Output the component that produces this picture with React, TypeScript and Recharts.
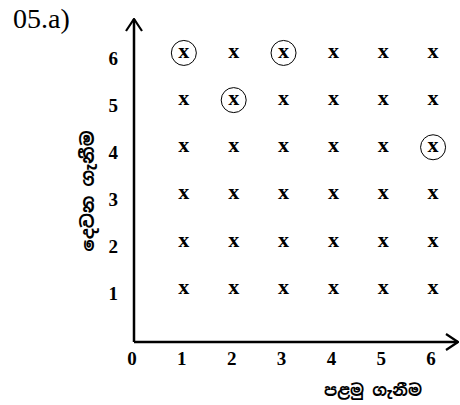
import React from 'react';
import { ScatterChart, Scatter, XAxis, YAxis } from 'recharts';

// Outcomes of the first and second draw
const firstTakes = [1, 2, 3, 4, 5, 6];
const secondTakes = [1, 2, 3, 4, 5, 6];
// Outcomes marked with a circle: [first, second]
const circledOutcomes = [
  [1, 6],
  [3, 6],
  [2, 5],
  [6, 4],
];
const xTicks = [0, 1, 2, 3, 4, 5, 6];
const yTicks = [1, 2, 3, 4, 5, 6];

const title = '05.a)';
const xLabel = 'පළමු ගැනීම';
const yLabel = 'දෙවන ගැනීම';

const sampleSpace = secondTakes.flatMap((s) =>
  firstTakes.map((f) => ({
    first: f,
    second: s,
    circled: circledOutcomes.some(([a, b]) => a === f && b === s),
  }))
);

const SERIF = '"Liberation Serif", "Times New Roman", serif';
const SINHALA = '"Noto Sans Sinhala", "Iskoola Pota", "Noto Sans", sans-serif';

const OutcomeMark = (props: any) => {
  const { cx, cy, payload } = props;
  return (
    <g>
      <text
        x={cx}
        y={cy + 5}
        textAnchor="middle"
        fontFamily={SERIF}
        fontWeight="bold"
        fontSize={22}
        fill="#000"
      >
        x
      </text>
      {payload.circled && (
        <circle cx={cx} cy={cy} r={12.5} fill="none" stroke="#000" strokeWidth={1} />
      )}
    </g>
  );
};

const tickStyle = {
  fontFamily: SERIF,
  fontWeight: 'bold' as const,
  fontSize: 19,
  fill: '#000',
};

const YTick = (props: any) => {
  const { x, y, payload } = props;
  return (
    <text x={x} y={y + 5} dy="0.355em" textAnchor="end" {...tickStyle}>
      {payload.value}
    </text>
  );
};

const XTick = (props: any) => {
  const { x, y, payload } = props;
  return (
    <text x={x - 2} y={y} dy="0.71em" textAnchor="middle" {...tickStyle}>
      {payload.value}
    </text>
  );
};

export default function App() {
  return (
    <div style={{ position: 'absolute', left: 0, top: 0, width: 460, height: 405, background: '#fff' }}>
      <svg width={0} height={0} style={{ position: 'absolute' }}>
        <defs>
          <marker
            id="axisArrow"
            viewBox="0 0 14 18"
            refX={13}
            refY={9}
            markerWidth={14}
            markerHeight={18}
            markerUnits="userSpaceOnUse"
            orient="auto-start-reverse"
          >
            <path d="M1,1 L13,9 L1,17" fill="none" stroke="#000" strokeWidth={2.2} />
          </marker>
        </defs>
      </svg>
      <ScatterChart
        width={460}
        height={405}
        margin={{ top: 19, right: 2, bottom: 23, left: 74 }}
      >
        <XAxis
          type="number"
          dataKey="first"
          domain={[0, 6.5]}
          ticks={xTicks}
          height={40}
          tickLine={false}
          tickSize={0}
          tickMargin={10}
          axisLine={{ stroke: '#000', strokeWidth: 2.5, markerEnd: 'url(#axisArrow)' } as any}
          tick={<XTick />}
          allowDataOverflow
        />
        <YAxis
          type="number"
          dataKey="second"
          domain={[-0.13, 6.72]}
          ticks={yTicks}
          width={60}
          tickLine={false}
          tickSize={0}
          tickMargin={16}
          axisLine={{ stroke: '#000', strokeWidth: 2.5, markerStart: 'url(#axisArrow)' } as any}
          tick={<YTick />}
          allowDataOverflow
        />
        <Scatter data={sampleSpace} shape={OutcomeMark} isAnimationActive={false} />
      </ScatterChart>
      <svg
        width={460}
        height={405}
        style={{ position: 'absolute', left: 0, top: 0, pointerEvents: 'none' }}
      >
        <text x={13} y={28} fontFamily={SERIF} fontSize={28} fill="#000">
          {title}
        </text>
        <text
          x={373}
          y={390}
          textAnchor="middle"
          dominantBaseline="central"
          fontFamily={SINHALA}
          fontWeight="bold"
          fontSize={16}
          fill="#000"
        >
          {xLabel}
        </text>
        <text
          x={87}
          y={191}
          textAnchor="middle"
          dominantBaseline="central"
          transform="rotate(-90, 87, 191)"
          fontFamily={SINHALA}
          fontWeight="bold"
          fontSize={18}
          fill="#000"
        >
          {yLabel}
        </text>
      </svg>
    </div>
  );
}
